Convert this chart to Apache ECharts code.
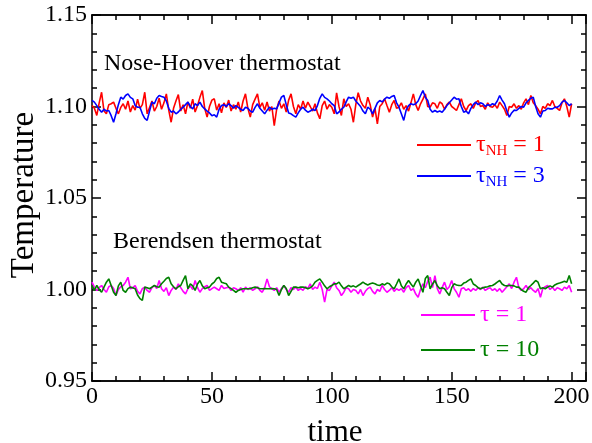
<!DOCTYPE html>
<html>
<head>
<meta charset="utf-8">
<script src="https://cdn.jsdelivr.net/npm/echarts@6/dist/echarts.min.js"></script>
<style>
html,body{margin:0;padding:0;background:#fff;}
#chart{width:592px;height:443px;}
</style>
</head>
<body>
<div id="chart"></div>
<script>
// time axis: one sample per time unit, starting at t = 0
const timeStart = 0;
const timeStep = 1;

// Nose-Hoover thermostat, tau_NH = 1 (red)
const noseHooverTau1 = [
1.1005,1.0990,1.0951,1.1020,1.1078,1.0975,1.0960,1.1010,1.1015,1.1024,
1.0990,1.0960,1.0995,1.1015,1.0985,1.1030,1.0970,1.1005,1.0980,1.1040,
1.0990,1.1010,1.1078,1.0960,1.0995,1.1030,1.0975,1.1000,1.1045,1.0985,
1.1020,1.1069,1.0980,1.0914,1.0990,1.1030,1.1065,1.0975,1.1010,1.0960,
1.1025,1.0990,1.1040,1.0970,1.1005,1.1050,1.1087,1.0990,1.0942,1.1000,
1.1035,1.1042,1.0980,1.1015,1.0965,1.1020,1.0995,1.1035,1.0975,1.1010,
1.0985,1.1025,1.0970,1.1030,1.1069,1.0990,1.0942,1.1010,1.1040,1.1069,
1.0995,1.1020,1.0980,1.1025,1.0975,1.1000,1.0896,1.0985,1.1030,1.0990,
1.1015,1.0970,1.1035,1.1069,1.1000,1.0960,1.1010,1.0985,1.1030,1.0990,
1.1024,1.1000,1.0975,1.1015,1.0965,1.0933,1.1005,1.1030,1.0985,1.1010,
1.0996,1.0960,1.1075,1.1000,1.0951,1.1042,1.1000,1.1015,1.0985,1.0914,
1.1010,1.1075,1.1030,1.1005,1.0990,1.1051,1.1010,1.0942,1.0990,1.0905,
1.1000,1.1015,1.1042,1.1005,1.0969,1.1010,1.1033,1.0990,1.0996,1.1020,
1.0985,1.1005,1.0975,1.1020,1.1069,1.1010,1.0978,1.1015,1.1040,1.1069,
1.1000,1.0996,1.1020,1.1015,1.0990,1.1025,1.1015,1.0985,1.1010,1.1024,
1.1000,1.0990,1.0978,1.1010,1.1042,1.1000,1.0978,1.1005,1.1015,1.0990,
1.1020,1.1033,1.1000,1.1005,1.0985,1.1020,1.1000,1.0996,1.1010,1.0990,
1.1024,1.1005,1.0985,1.0951,1.1000,1.0996,1.1015,1.0990,1.1005,1.0985,
1.1020,1.1042,1.1010,1.1060,1.1020,1.1005,1.0985,1.0960,1.1000,1.0990,
1.1015,1.1005,1.1033,1.1000,1.0990,1.0978,1.1020,1.1042,1.1000,1.0942,
1.1015
];

// Nose-Hoover thermostat, tau_NH = 3 (blue)
const noseHooverTau3 = [
1.1033,1.1024,1.1005,1.0985,1.0969,1.0985,1.0975,1.0978,1.0950,1.0914,
1.0960,1.1010,1.1051,1.1040,1.1060,1.1069,1.1050,1.1042,1.1005,1.0996,
1.0996,1.0960,1.0935,1.0924,1.0975,1.1024,1.1015,1.1045,1.1060,1.1055,
1.1051,1.1030,1.0990,1.0969,1.0975,1.0960,1.0970,1.0985,1.0996,1.1010,
1.1024,1.1000,1.0987,1.1015,1.1005,1.1024,1.1000,1.0987,1.0975,1.0965,
1.0950,1.0955,1.0942,1.0985,1.1005,1.1010,1.1000,1.1015,1.1005,1.0990,
1.1005,1.0995,1.0985,1.0978,1.0996,1.0990,1.0975,1.0969,1.0995,1.1015,
1.0990,1.0975,1.0960,1.0980,1.0996,1.0985,1.0990,1.0987,1.1020,1.1051,
1.1060,1.1010,1.0965,1.0960,1.0950,1.0942,1.0965,1.0985,1.0996,1.0980,
1.0969,1.0975,1.0985,1.0978,1.1005,1.1045,1.1069,1.1050,1.1042,1.1030,
1.1015,1.1005,1.0960,1.0970,1.0985,1.0996,1.1025,1.1051,1.1045,1.1051,
1.1030,1.1015,1.1000,1.0975,1.0960,1.0996,1.0985,1.0960,1.0990,1.1020,
1.1033,1.1025,1.1040,1.1051,1.1045,1.1055,1.1060,1.1020,1.0996,1.0960,
1.0924,1.0980,1.1005,1.1015,1.1010,1.1015,1.1030,1.1060,1.1087,1.1050,
1.1033,1.0985,1.0969,1.0978,1.0970,1.0975,1.0969,1.0985,1.1005,1.1020,
1.1035,1.1051,1.1040,1.1042,1.1000,1.0969,1.0975,1.0960,1.0990,1.1010,
1.1024,1.1010,1.1020,1.1015,1.1000,1.1010,1.1005,1.1015,1.1010,1.1030,
1.1060,1.1035,1.1015,1.0975,1.0942,1.0965,1.0980,1.0978,1.0990,1.1000,
1.0996,1.1020,1.1033,1.1045,1.1051,1.1000,1.0960,1.0942,1.0975,1.0978,
1.0990,1.0987,1.0987,1.0995,1.0996,1.1005,1.1024,1.1033,1.1020,1.1005,
1.1015
];

// Berendsen thermostat, tau = 1 (magenta)
const berendsenTau1 = [
1.0040,1.0013,0.9995,1.0010,1.0022,1.0000,0.9985,1.0015,1.0022,1.0005,
0.9967,1.0000,1.0015,1.0022,1.0040,1.0067,1.0004,1.0010,1.0022,0.9990,
0.9976,1.0005,1.0013,0.9995,0.9985,1.0010,1.0022,1.0005,1.0049,1.0004,
0.9990,1.0010,0.9967,0.9995,1.0013,1.0000,1.0031,1.0010,0.9990,0.9976,
1.0004,1.0020,1.0000,1.0049,1.0010,0.9985,1.0005,1.0015,1.0022,0.9995,
1.0005,1.0013,1.0004,0.9995,1.0022,1.0005,1.0010,1.0013,0.9995,1.0010,
1.0004,0.9995,1.0010,0.9985,1.0013,1.0000,1.0010,0.9995,1.0004,1.0015,
0.9995,0.9985,1.0010,1.0058,1.0015,1.0004,0.9995,1.0010,0.9985,1.0005,
1.0022,1.0000,0.9985,1.0010,1.0000,1.0013,0.9995,1.0005,0.9995,1.0015,
1.0005,1.0031,1.0000,1.0013,1.0005,1.0040,1.0000,0.9931,1.0000,0.9995,
1.0020,1.0040,1.0010,0.9995,0.9967,0.9985,1.0010,1.0004,0.9985,1.0000,
0.9995,0.9976,1.0000,0.9967,0.9990,1.0005,1.0013,0.9990,0.9976,1.0000,
0.9990,1.0022,1.0000,0.9985,0.9995,1.0010,0.9990,1.0004,0.9995,1.0005,
0.9985,1.0010,1.0022,0.9995,1.0005,0.9975,0.9958,1.0000,1.0031,1.0010,
1.0045,1.0067,1.0010,1.0076,1.0005,0.9976,1.0010,1.0040,1.0000,1.0015,
1.0049,1.0005,0.9985,0.9958,1.0004,1.0010,0.9995,1.0004,0.9990,1.0005,
0.9995,1.0010,1.0000,1.0013,0.9995,1.0004,1.0010,0.9995,1.0004,0.9990,
1.0005,0.9985,1.0000,1.0015,1.0031,1.0005,1.0040,1.0067,1.0010,0.9995,
1.0004,1.0022,1.0000,1.0010,0.9995,0.9985,1.0005,0.9958,1.0005,1.0015,
1.0022,1.0000,1.0013,0.9995,1.0010,1.0004,0.9995,1.0013,1.0004,1.0022,
0.9985
];

// Berendsen thermostat, tau = 10 (green)
const berendsenTau10 = [
1.0022,0.9995,1.0022,1.0000,0.9985,1.0013,1.0040,1.0058,1.0022,0.9985,
0.9967,1.0020,1.0040,0.9995,0.9985,1.0005,1.0013,1.0010,1.0004,0.9970,
0.9950,0.9940,1.0013,1.0010,1.0004,1.0013,1.0022,1.0015,1.0013,1.0031,
1.0045,1.0060,1.0067,1.0031,1.0015,1.0004,1.0015,1.0022,1.0050,1.0076,
1.0004,1.0031,1.0020,0.9995,1.0030,1.0049,1.0020,1.0004,1.0010,1.0013,
1.0030,1.0040,1.0060,1.0067,1.0040,1.0035,1.0031,1.0013,1.0005,0.9995,
0.9985,0.9995,1.0000,1.0004,1.0004,1.0004,1.0004,1.0010,1.0013,1.0010,
1.0004,1.0004,1.0005,1.0004,1.0004,1.0005,1.0004,1.0000,0.9967,1.0000,
1.0022,1.0005,0.9967,0.9990,1.0013,1.0013,1.0010,1.0013,1.0013,1.0010,
1.0004,1.0010,1.0020,1.0040,1.0050,1.0058,1.0040,1.0020,1.0004,1.0015,
1.0022,1.0031,1.0031,1.0040,1.0020,1.0004,1.0013,1.0022,1.0015,1.0020,
1.0013,1.0022,1.0030,1.0040,1.0031,1.0025,1.0031,1.0035,1.0031,1.0025,
1.0022,1.0031,1.0025,1.0035,1.0031,1.0015,1.0004,1.0030,1.0058,1.0020,
1.0004,1.0030,1.0049,1.0030,1.0013,1.0040,1.0058,1.0020,0.9985,1.0060,
1.0076,1.0004,1.0030,1.0049,1.0020,1.0004,1.0010,1.0004,0.9985,0.9967,
1.0010,1.0031,1.0025,1.0022,1.0022,1.0035,1.0040,1.0050,1.0058,1.0030,
1.0022,1.0010,1.0004,1.0010,1.0013,1.0015,1.0020,1.0022,1.0030,1.0040,
1.0049,1.0030,1.0022,1.0020,1.0022,1.0022,1.0020,1.0013,1.0013,1.0000,
0.9990,0.9985,1.0010,1.0022,1.0035,1.0049,1.0040,1.0004,1.0010,1.0004,
1.0013,1.0020,1.0013,1.0025,1.0031,1.0035,1.0040,1.0045,1.0040,1.0076,
1.0031
];

// axis settings
const xMin = 0, xMax = 206, xMajor = 50, xMinor = 10, xLabelMax = 200;
const yMin = 0.95, yMax = 1.15, yMajor = 0.05;
const xTitle = 'time';
const yTitle = 'Temperature';
const annotations = ['Nose-Hoover thermostat', 'Berendsen thermostat'];

const FONT = '"Liberation Serif", "Times New Roman", serif';

function toPairs(arr) {
  return arr.map((v, i) => [timeStart + i * timeStep, v]);
}

const chart = echarts.init(document.getElementById('chart'), null, {renderer: 'canvas'});

const axisLine = {show: true, onZero: false, lineStyle: {color: '#000', width: 1.5}};
const tickStyle = {color: '#000', width: 1.5};

function xAx(pos, interval, len, labels, extra) {
  return Object.assign({
    type: 'value', position: pos, min: xMin, max: xMax, interval: interval,
    axisLine: axisLine,
    axisTick: {show: true, inside: true, length: len, lineStyle: tickStyle},
    axisLabel: labels ? {
      show: true, margin: 4, fontSize: 24, fontFamily: FONT, color: '#000',
      formatter: v => (v % xMajor === 0 && v <= xLabelMax) ? String(v) : ''
    } : {show: false},
    splitLine: {show: false}
  }, extra || {});
}

function yAx(pos, labels, extra) {
  return Object.assign({
    type: 'value', position: pos, min: yMin, max: yMax, interval: yMajor,
    axisLine: axisLine,
    axisTick: {show: true, inside: true, length: 9, lineStyle: tickStyle},
    minorTick: {show: true, splitNumber: 5, length: 5, lineStyle: tickStyle},
    axisLabel: labels ? {
      show: true, margin: 5, fontSize: 24, fontFamily: FONT, color: '#000',
      formatter: v => v.toFixed(2)
    } : {show: false},
    splitLine: {show: false}
  }, extra || {});
}

const sub = {
  t: {fontSize: 24, fontFamily: FONT},
  s: {fontSize: 15, fontFamily: FONT, padding: [12, 0, 0, 0]}
};

function legendFor(name, label, color, top, left, rich) {
  return {
    data: [{name: name, icon: 'rect'}],
    left: left, top: top, padding: 0,
    itemWidth: 54, itemHeight: 2, itemGap: 0,
    selectedMode: false,
    textStyle: Object.assign({color: color, fontSize: 24, fontFamily: FONT}, rich ? {rich: rich} : {}),
    formatter: () => label
  };
}

chart.setOption({
  animation: false,
  backgroundColor: '#fff',
  grid: {left: 92, right: 6, top: 15, bottom: 62, containLabel: false, outerBoundsMode: 'none'},
  xAxis: [
    xAx('bottom', xMinor, 5, false),
    xAx('bottom', xMajor, 9, true, {
      name: xTitle, nameLocation: 'middle', nameGap: 36,
      nameTextStyle: {fontSize: 31, fontFamily: FONT, color: '#000', padding: [0, 8, 0, 0]}
    }),
    xAx('top', xMinor, 5, false),
    xAx('top', xMajor, 9, false)
  ],
  yAxis: [
    yAx('left', true, {
      name: yTitle, nameLocation: 'middle', nameGap: 51, nameMoveOverlap: false,
      nameTextStyle: {fontSize: 33, fontFamily: FONT, color: '#000', padding: [0, 0, 0, 6]}
    }),
    yAx('right', false)
  ],
  legend: [
    legendFor('nh1', '{t|τ}{s|NH}{t| = 1}', '#ff0000', 133, 417, sub),
    legendFor('nh3', '{t|τ}{s|NH}{t| = 3}', '#0000ff', 164, 417, sub),
    legendFor('b1', 'τ = 1', '#ff00ff', 303, 421),
    legendFor('b10', 'τ = 10', '#008000', 338, 421)
  ],
  graphic: [
    {type: 'text', x: 104, y: 64, silent: true,
     style: {text: annotations[0], fill: '#000', font: '24px ' + FONT, verticalAlign: 'middle'}},
    {type: 'text', x: 113, y: 242, silent: true,
     style: {text: annotations[1], fill: '#000', font: '24px ' + FONT, verticalAlign: 'middle'}}
  ],
  series: [
    {name: 'nh1', type: 'line', xAxisIndex: 1, yAxisIndex: 0, data: toPairs(noseHooverTau1),
     showSymbol: false, lineStyle: {color: '#ff0000', width: 1.6}, itemStyle: {color: '#ff0000'}},
    {name: 'nh3', type: 'line', xAxisIndex: 1, yAxisIndex: 0, data: toPairs(noseHooverTau3),
     showSymbol: false, lineStyle: {color: '#0000ff', width: 1.6}, itemStyle: {color: '#0000ff'}},
    {name: 'b1', type: 'line', xAxisIndex: 1, yAxisIndex: 0, data: toPairs(berendsenTau1),
     showSymbol: false, lineStyle: {color: '#ff00ff', width: 1.6}, itemStyle: {color: '#ff00ff'}},
    {name: 'b10', type: 'line', xAxisIndex: 1, yAxisIndex: 0, data: toPairs(berendsenTau10),
     showSymbol: false, lineStyle: {color: '#008000', width: 1.6}, itemStyle: {color: '#008000'}}
  ]
});
</script>
</body>
</html>
